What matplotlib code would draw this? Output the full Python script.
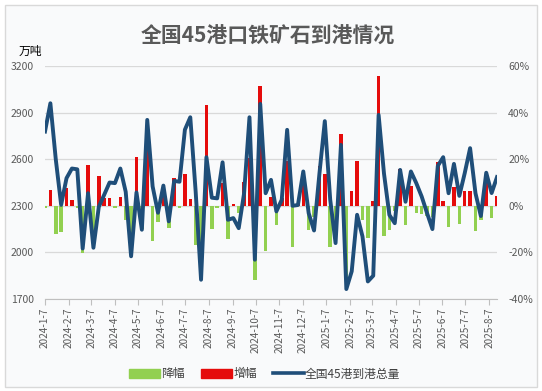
import matplotlib
matplotlib.use("Agg")
import matplotlib.pyplot as plt
import matplotlib.patches as mpatches
from matplotlib.lines import Line2D
from matplotlib.ticker import FuncFormatter
from datetime import datetime
import numpy as np
import pandas as pd

plt.rcParams['font.family'] = ['Noto Sans CJK SC', 'DejaVu Sans']

# weekly arrivals at 45 ports (10k tonnes)
weeks = pd.date_range("2024-01-07", periods=85, freq="7D")
arrivals = [
    2778, 2960, 2600, 2306, 2478, 2540, 2535, 2025, 2381, 2030,
    2293, 2371, 2450, 2446, 2540, 2390, 1975, 2386, 2146, 2853,
    2425, 2255, 2430, 2200, 2460, 2455, 2790, 2870, 2391, 1824,
    2613, 2352, 2348, 2580, 2210, 2221, 2156, 2381, 2870, 1953,
    2956, 2381, 2467, 2264, 2339, 2789, 2300, 2305, 2521, 2253,
    2141, 2507, 2845, 2341, 2060, 2692, 1764, 1878, 2242, 2103,
    1813, 1850, 2885, 2507, 2241, 2188, 2531, 2326, 2521, 2446,
    2360, 2253, 2150, 2557, 2613, 2381, 2570, 2364, 2510, 2671,
    2381, 2234, 2513, 2382, 2485,
]
# week-on-week change, %
change_pct = [
    -0.8, 6.6, -12.2, -11.3, 7.5, 2.5, -0.8, -20.1, 17.6, -14.7,
    13.0, 3.4, 3.3, -0.8, 3.8, -5.9, -17.4, 20.8, -10.1, 32.9,
    -15.0, -7.0, 7.8, -9.5, 11.8, -0.8, 13.6, 2.9, -16.7, -23.7,
    43.3, -10.0, -0.8, 9.9, -14.3, 0.8, -2.9, 10.4, 20.5, -32.0,
    51.4, -19.5, 3.6, -8.2, 3.3, 19.2, -17.5, 0.6, 9.4, -10.6,
    -5.0, 17.1, 13.5, -17.7, -12.0, 30.7, -34.5, 6.5, 19.4, -6.2,
    -13.8, 2.0, 55.9, -13.1, -10.6, -2.4, 15.7, -8.1, 8.4, -3.0,
    -3.5, -4.5, -4.6, 18.9, 2.2, -8.9, 7.9, -8.0, 6.2, 6.4,
    -10.9, -6.2, 12.5, -5.2, 4.3,
]
tick_labels = [
    "2024-1-7", "2024-2-7", "2024-3-7", "2024-4-7", "2024-5-7",
    "2024-6-7", "2024-7-7", "2024-8-7", "2024-9-7", "2024-10-7",
    "2024-11-7", "2024-12-7", "2025-1-7", "2025-2-7", "2025-3-7",
    "2025-4-7", "2025-5-7", "2025-6-7", "2025-7-7", "2025-8-7",
]
tick_dates = [datetime.strptime(s, "%Y-%m-%d") for s in tick_labels]

GREEN = "#92d050"
RED = "#e50b0b"
BLUE = "#1f4e79"
GRAY = "#595959"

W, H = 542, 391
fig = plt.figure(figsize=(W / 100, H / 100), dpi=100)
fig.patch.set_facecolor("white")
fig.patches.append(mpatches.Rectangle((5 / W, 4 / H), 532 / W, 382 / H,
                                      transform=fig.transFigure,
                                      facecolor="#f9fafb", edgecolor="#d9d9d9",
                                      linewidth=1.0, zorder=-5))

ax = fig.add_axes([45 / W, 1 - 299 / H, 452 / W, 233 / H])
ax2 = ax.twinx()
ax.set_zorder(ax2.get_zorder() + 1)
ax.patch.set_visible(False)
ax2.patch.set_visible(False)

pct = np.array(change_pct)
ax2.bar(weeks, np.where(pct < 0, pct, 0), width=4.6, color=GREEN, zorder=2)
ax2.bar(weeks, np.where(pct >= 0, pct, 0), width=4.6, color=RED, zorder=2)
ax.plot(weeks, arrivals, color=BLUE, linewidth=2.8, zorder=3)

ax.set_ylim(1700, 3200)
ax.set_yticks(range(1700, 3201, 300))
ax2.set_ylim(-40, 60)
ax2.set_yticks(range(-40, 61, 20))
ax2.yaxis.set_major_formatter(FuncFormatter(lambda v, p: f"{v:.0f}%"))
ax.set_xlim(weeks[0], weeks[-1])

ax2.grid(axis="y", color="#d9d9d9", linewidth=0.9)
ax2.set_axisbelow(True)

for a in (ax, ax2):
    for s in a.spines.values():
        s.set_visible(False)
ax.spines["bottom"].set_visible(True)
ax.spines["bottom"].set_color("#bfbfbf")

ax.set_xticks(tick_dates)
ax.set_xticklabels(tick_labels, rotation=90)
ax.tick_params(axis="x", length=4, color="#bfbfbf", labelsize=7.2, labelcolor=GRAY, pad=2)
ax.tick_params(axis="y", length=0, labelsize=7.5, labelcolor=GRAY, pad=8)
ax2.tick_params(axis="y", length=0, labelsize=7.5, labelcolor=GRAY, pad=8)
ax2.tick_params(axis="x", length=0)

fig.text(268 / W, 1 - 36 / H, "全国45港口铁矿石到港情况", ha="center", va="center",
         fontsize=15, fontweight="bold", color=GRAY)
fig.text(19 / W, 1 - 51 / H, "万吨", ha="left", va="center", fontsize=8.5, color="black")

handles = [mpatches.Patch(color=GREEN, label="降幅"),
           mpatches.Patch(color=RED, label="增幅"),
           Line2D([], [], color=BLUE, linewidth=2.6, label="全国45港到港总量")]
fig.legend(handles=handles, loc="center", bbox_to_anchor=(265 / W, 1 - 374 / H),
           ncol=3, frameon=False, fontsize=8.5, handlelength=2.6, handleheight=0.8,
           handletextpad=0.1, columnspacing=1.4, labelcolor="#404040")

fig.savefig("out.png", dpi=100, facecolor=fig.get_facecolor())
